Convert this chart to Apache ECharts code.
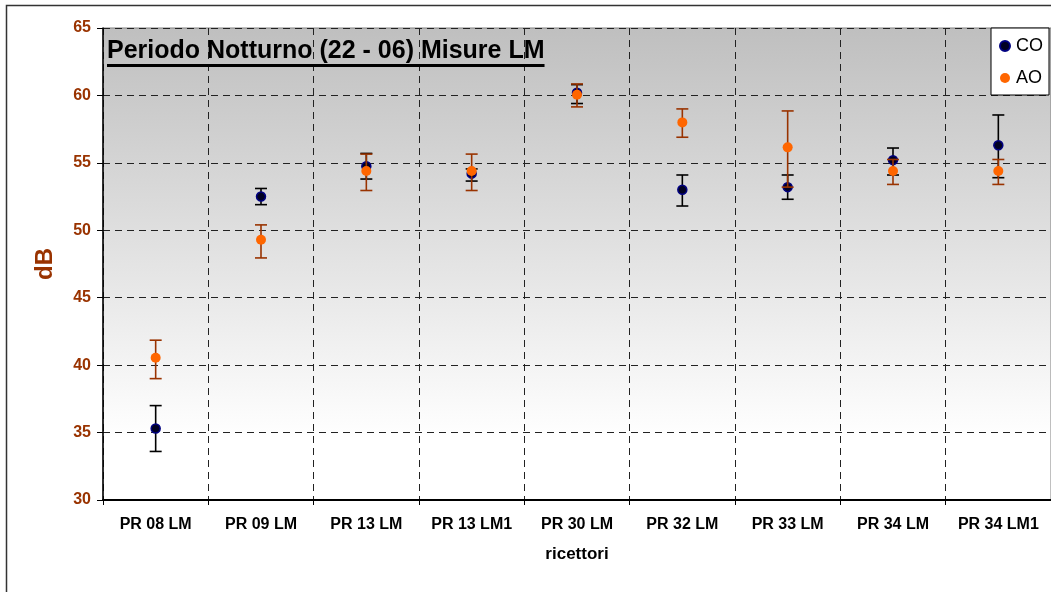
<!DOCTYPE html>
<html>
<head>
<meta charset="utf-8">
<script src="https://cdn.jsdelivr.net/npm/echarts@6/dist/echarts.min.js"></script>
<style>
  html, body { margin: 0; padding: 0; background: #ffffff; }
  #chart { width: 1051px; height: 592px; }
</style>
</head>
<body>
<div id="chart"></div>
<script>
// Receivers (x categories)
const categories = ['PR 08 LM', 'PR 09 LM', 'PR 13 LM', 'PR 13 LM1', 'PR 30 LM', 'PR 32 LM', 'PR 33 LM', 'PR 34 LM', 'PR 34 LM1'];

// CO series: mean level and error bar limits (dB)
const coValues = [35.3, 52.5, 54.75, 54.2, 60.2, 53.0, 53.2, 55.2, 56.3];
const coLow    = [33.6, 51.9, 53.8, 53.65, 59.4, 51.8, 52.3, 54.1, 53.9];
const coHigh   = [37.0, 53.1, 55.7, 54.55, 60.8, 54.1, 54.1, 56.1, 58.55];

// AO series: mean level and error bar limits (dB)
const aoValues = [40.55, 49.3, 54.4, 54.4, 60.05, 58.0, 56.15, 54.4, 54.4];
const aoLow    = [39.0, 47.95, 52.95, 52.95, 59.15, 56.9, 53.2, 53.4, 53.4];
const aoHigh   = [41.85, 50.4, 55.65, 55.65, 60.85, 59.0, 58.85, 55.25, 55.25];

// Y axis range and step
const yMin = 30, yMax = 65, yStep = 5;

const titleText = 'Periodo Notturno (22 - 06) Misure LM';
const FONT = 'Liberation Sans, Arial, sans-serif';
const BROWN = '#993300';

const chart = echarts.init(document.getElementById('chart'));

// measure the title so the underline follows its width
const ctx = document.createElement('canvas').getContext('2d');
ctx.font = 'bold 25px ' + FONT;
const titleWidth = ctx.measureText(titleText).width;

function errorBars(color) {
  return function (params, api) {
    const x = api.value(0);
    const lo = api.coord([x, api.value(1)]);
    const hi = api.coord([x, api.value(2)]);
    const half = 6;
    const style = { stroke: color, lineWidth: 1.6 };
    return {
      type: 'group',
      children: [
        { type: 'line', shape: { x1: hi[0], y1: hi[1], x2: lo[0], y2: lo[1] }, style },
        { type: 'line', shape: { x1: hi[0] - half, y1: hi[1], x2: hi[0] + half, y2: hi[1] }, style },
        { type: 'line', shape: { x1: lo[0] - half, y1: lo[1], x2: lo[0] + half, y2: lo[1] }, style }
      ]
    };
  };
}

const option = {
  animation: false,
  backgroundColor: '#ffffff',
  textStyle: { fontFamily: FONT },
  grid: {
    left: 103, top: 28, right: 0, bottom: 92,
    show: true,
    borderColor: '#808080',
    borderWidth: 1,
    backgroundColor: {
      type: 'linear', x: 0, y: 0, x2: 0, y2: 1,
      colorStops: [
        { offset: 0, color: '#bfbfbf' },
        { offset: 0.87, color: '#ffffff' },
        { offset: 1, color: '#ffffff' }
      ]
    }
  },
  legend: {
    data: ['CO', 'AO'],
    orient: 'vertical',
    left: 991, top: 28,
    width: 58,
    padding: [9, 6, 8, 8],
    itemGap: 14,
    itemWidth: 10, itemHeight: 10,
    backgroundColor: '#ffffff',
    borderColor: '#000000',
    borderWidth: 1,
    borderRadius: 0,
    textStyle: { fontSize: 18, color: '#000000', fontFamily: FONT, padding: [0, 0, 0, 1] }
  },
  xAxis: {
    type: 'category',
    data: categories,
    boundaryGap: true,
    name: 'ricettori',
    nameLocation: 'middle',
    nameGap: 46,
    nameTextStyle: { fontSize: 17, fontWeight: 'bold', color: '#000000', fontFamily: FONT },
    axisLine: { lineStyle: { color: '#000000', width: 2 } },
    axisTick: { show: true, alignWithLabel: false, length: 5, lineStyle: { color: '#000000' } },
    axisLabel: { fontSize: 16, fontWeight: 'bold', color: '#000000', margin: 17, interval: 0, fontFamily: FONT },
    splitLine: { show: true, interval: 0, lineStyle: { color: '#222222', width: 1, type: [7, 5] } }
  },
  yAxis: {
    type: 'value',
    min: yMin, max: yMax, interval: yStep,
    name: 'dB',
    nameLocation: 'middle',
    nameRotate: 90,
    nameGap: 46,
    nameTextStyle: { fontSize: 24, fontWeight: 'bold', color: BROWN, fontFamily: FONT },
    axisLine: { show: true, lineStyle: { color: '#000000', width: 1.5 } },
    axisTick: { show: true, inside: false, length: 6, lineStyle: { color: '#000000' } },
    axisLabel: { fontSize: 16, fontWeight: 'bold', color: BROWN, margin: 12, fontFamily: FONT },
    splitLine: { show: true, lineStyle: { color: '#222222', width: 1, type: [7, 5] } }
  },
  graphic: [
    {
      type: 'rect', silent: true, z: 100,
      shape: { x: 6.5, y: 5.5, width: 1200, height: 800 },
      style: { fill: 'none', stroke: '#333333', lineWidth: 1.5 }
    },
    {
      type: 'text', z: 100, left: 107, top: 39,
      style: { text: titleText, font: 'bold 25px ' + FONT, fill: '#000000' }
    },
    {
      type: 'rect', z: 100,
      shape: { x: 107, y: 64, width: titleWidth, height: 3 },
      style: { fill: '#000000' }
    }
  ],
  series: [
    {
      name: 'CO err', type: 'custom',
      renderItem: errorBars('#000000'),
      data: categories.map((c, i) => [i, coLow[i], coHigh[i]]),
      encode: { x: 0, y: [1, 2] },
      z: 2
    },
    {
      name: 'CO', type: 'scatter',
      data: coValues,
      symbol: 'circle', symbolSize: 9,
      itemStyle: { color: '#000022', borderColor: '#000080', borderWidth: 1.5, opacity: 1 },
      z: 3
    },
    {
      name: 'AO err', type: 'custom',
      renderItem: errorBars(BROWN),
      data: categories.map((c, i) => [i, aoLow[i], aoHigh[i]]),
      encode: { x: 0, y: [1, 2] },
      z: 4
    },
    {
      name: 'AO', type: 'scatter',
      data: aoValues,
      symbol: 'circle', symbolSize: 10,
      itemStyle: { color: '#ff6600', opacity: 1 },
      z: 5
    }
  ]
};

chart.setOption(option);
</script>
</body>
</html>
